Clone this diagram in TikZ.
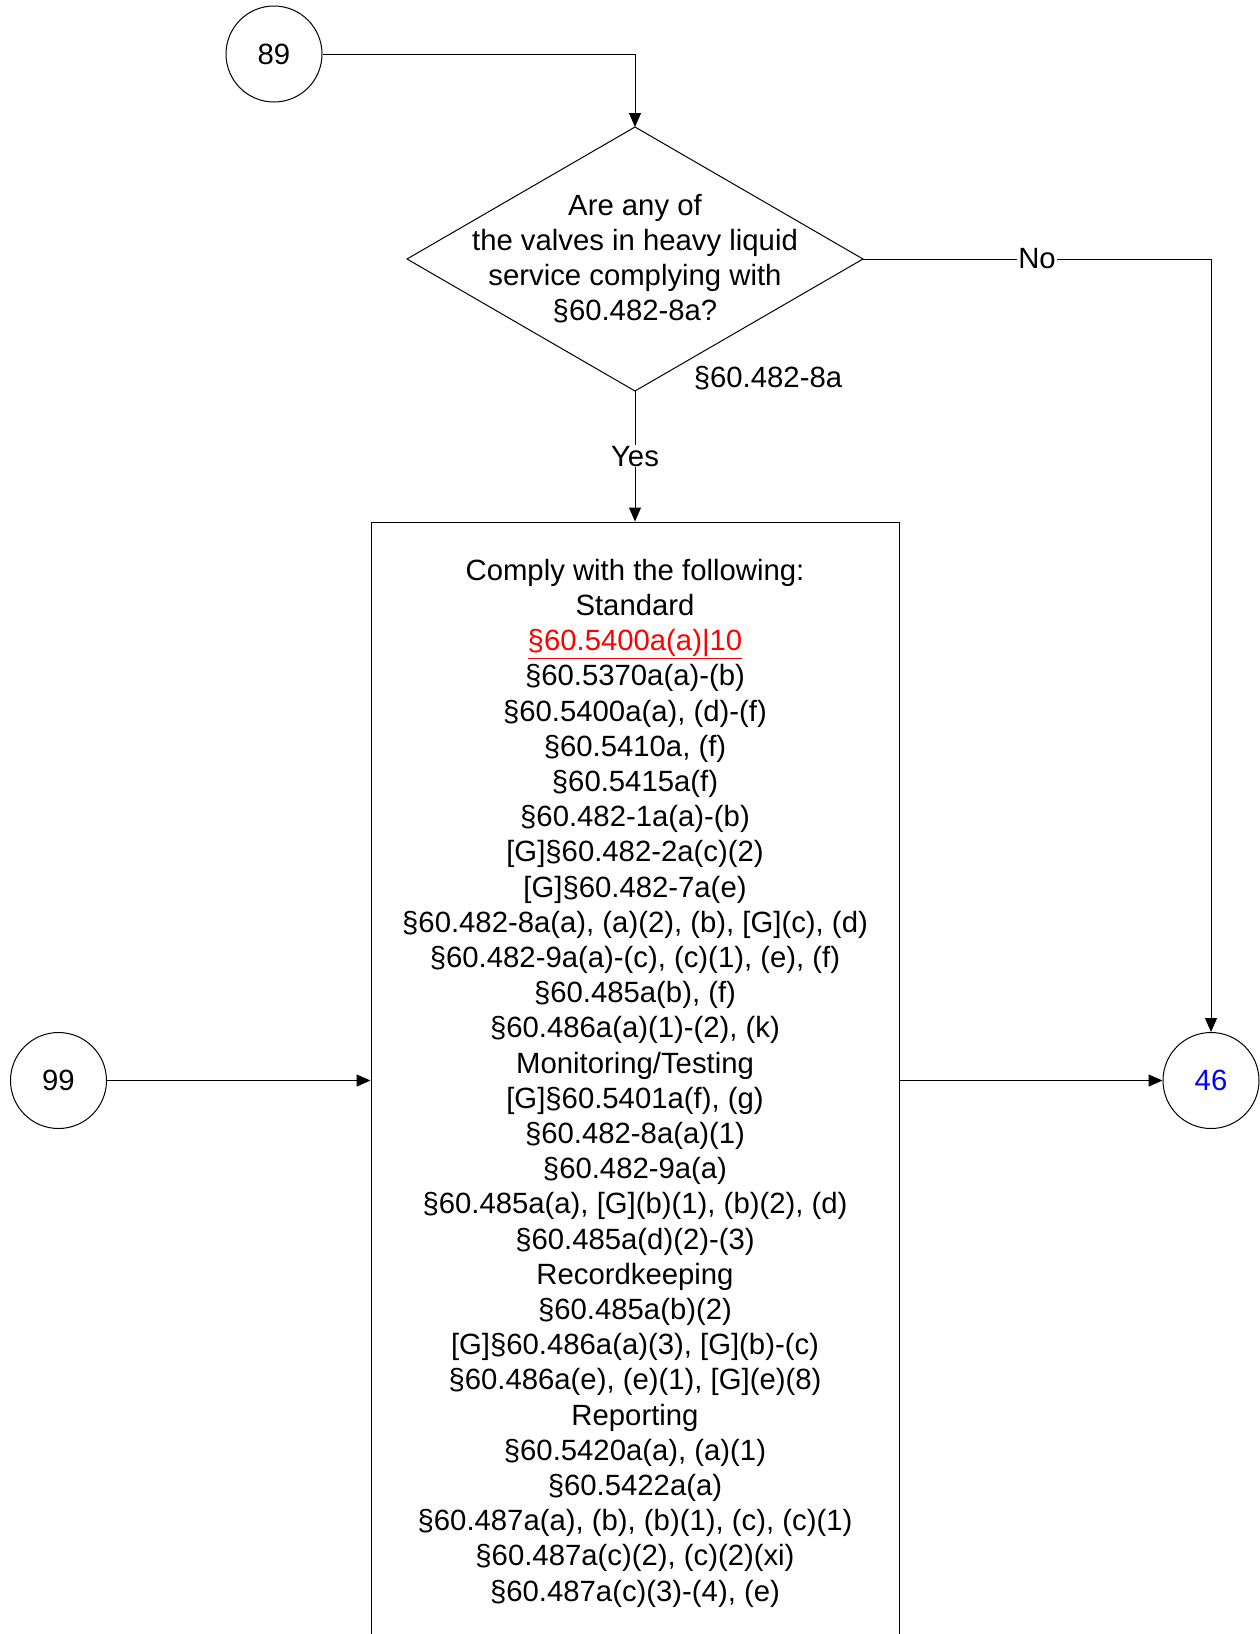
\documentclass[tikz,border=0pt]{standalone}
\usepackage{fontspec}
\setmainfont{Liberation Sans}
\usetikzlibrary{arrows.meta}
\definecolor{linkred}{RGB}{255,0,0}
\definecolor{linkblue}{RGB}{0,0,255}
\begin{document}
\begin{tikzpicture}[x=1pt,y=-1pt,
  every node/.style={font=\fontsize{29.3}{35.2}\selectfont},
  conn/.style={draw=black, line width=1pt, -{Triangle[length=14pt,width=12pt]}},
  conncirc/.style={circle, draw, line width=1pt, minimum size=96pt, inner sep=0pt},
  procbox/.style={draw, line width=1pt, minimum width=528pt, minimum height=1122pt, align=center, inner sep=0pt},
  lbl/.style={fill=white, inner sep=1pt}]
\useasboundingbox (0,0) rectangle (1259,1634);

% connector circles
\node[conncirc] (c89) at (274,54) {89};
\node[conncirc] (c99) at (58.5,1080.5) {99};
\node[conncirc, text=linkblue] (c46) at (1211,1080.5) {46};

% decision diamond
\coordinate (dT) at (635,127);
\coordinate (dR) at (863,259);
\coordinate (dB) at (635,391);
\coordinate (dL) at (407,259);
\draw[line width=1pt] (dT) -- (dR) -- (dB) -- (dL) -- cycle;
\node[align=center, inner sep=0pt] (q) at (635,258.8) {Are any of\\the valves in heavy liquid\\service complying with\\§60.482-8a?};
\node[inner sep=0pt] (ref) at (768,378.5) {§60.482-8a};

% process box (top edge at y=522, bottom edge below the page)
\node[procbox] (box) at (635,1083) {Comply with the following:\\
Standard\\
\textcolor{linkred}{\underline{§60.5400a(a)|10}}\\
§60.5370a(a)-(b)\\
§60.5400a(a), (d)-(f)\\
§60.5410a, (f)\\
§60.5415a(f)\\
§60.482-1a(a)-(b)\\
{[G]}§60.482-2a(c)(2)\\
{[G]}§60.482-7a(e)\\
§60.482-8a(a), (a)(2), (b), [G](c), (d)\\
§60.482-9a(a)-(c), (c)(1), (e), (f)\\
§60.485a(b), (f)\\
§60.486a(a)(1)-(2), (k)\\
Monitoring/Testing\\
{[G]}§60.5401a(f), (g)\\
§60.482-8a(a)(1)\\
§60.482-9a(a)\\
§60.485a(a), [G](b)(1), (b)(2), (d)\\
§60.485a(d)(2)-(3)\\
Recordkeeping\\
§60.485a(b)(2)\\
{[G]}§60.486a(a)(3), [G](b)-(c)\\
§60.486a(e), (e)(1), [G](e)(8)\\
Reporting\\
§60.5420a(a), (a)(1)\\
§60.5422a(a)\\
§60.487a(a), (b), (b)(1), (c), (c)(1)\\
§60.487a(c)(2), (c)(2)(xi)\\
§60.487a(c)(3)-(4), (e)};

% connectors
\draw[conn] (c89.east) -| (dT);
\draw[conn] (dB) -- node[lbl, midway] {Yes} (box.north);
\draw[conn] (dR) -| node[lbl, pos=0.25] {No} (c46.north);
\draw[conn] (c99.east) -- (c99.east -| box.west);
\draw[conn] (c46.west -| box.east) -- (c46.west);
\end{tikzpicture}
\end{document}
